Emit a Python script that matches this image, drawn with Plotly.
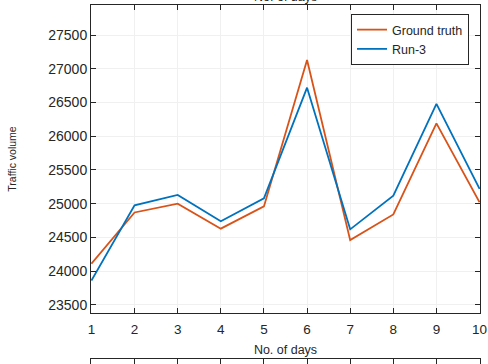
import plotly.graph_objects as go

days = [1, 2, 3, 4, 5, 6, 7, 8, 9, 10]
ground_truth = [24110, 24870, 25000, 24630, 24960, 27130, 24460, 24840, 26190, 25020]
run3 = [23860, 24975, 25130, 24740, 25080, 26720, 24620, 25120, 26480, 25220]
y_ticks = [23500, 24000, 24500, 25000, 25500, 26000, 26500, 27000, 27500]

W, H = 488, 364
x0, x1 = 91, 480
y_top, y_bot = 5, 313

fig = go.Figure()
fig.add_trace(go.Scatter(x=days, y=ground_truth, mode="lines", name="Ground truth",
                         line=dict(color="#D95319", width=1.8)))
fig.add_trace(go.Scatter(x=days, y=run3, mode="lines", name="Run-3",
                         line=dict(color="#0072BD", width=1.8)))
# partial axes of the subplot below (only its top edge is visible)
fig.add_trace(go.Scatter(x=[None], y=[None], xaxis="x2", yaxis="y2", showlegend=False))

font = "Liberation Sans, Arial, sans-serif"
fig.update_layout(
    width=W, height=H,
    margin=dict(l=0, r=0, t=0, b=0, autoexpand=False),
    paper_bgcolor="white", plot_bgcolor="white",
    font=dict(family=font, size=13, color="#262626"),
    showlegend=True,
    legend=dict(x=469 / W, xanchor="right", y=1 - 14 / H, yanchor="top",
                xref="paper", yref="paper",
                bgcolor="white", bordercolor="#262626", borderwidth=1,
                font=dict(size=12.5, color="#262626"),
                tracegroupgap=0, itemwidth=30),
    xaxis=dict(domain=[x0 / W, x1 / W], range=[0.99, 10.01], anchor="y",
               automargin=False,
               tickmode="array", tickvals=days, ticktext=[str(d) for d in days],
               ticks="inside", ticklen=5, tickcolor="#262626",
               showline=True, linecolor="#262626", linewidth=1, mirror="ticks",
               showgrid=True, gridcolor="#f0f0f0", gridwidth=1,
               zeroline=False, tickfont=dict(size=13.5), ticklabelstandoff=4,
               title=dict(text="No. of days", font=dict(size=12.5), standoff=9)),
    yaxis=dict(domain=[1 - y_bot / H, 1 - y_top / H], range=[23380, 27945], anchor="x",
               automargin=False,
               tickmode="array", tickvals=y_ticks, ticktext=[str(v) for v in y_ticks],
               ticks="inside", ticklen=5, tickcolor="#262626",
               showline=True, linecolor="#262626", linewidth=1, mirror="ticks",
               showgrid=True, gridcolor="#f0f0f0", gridwidth=1,
               zeroline=False, tickfont=dict(size=14),
               title=dict(text="Traffic volume", font=dict(size=10.5), standoff=29)),
    xaxis2=dict(domain=[x0 / W, x1 / W], range=[0.99, 10.01], anchor="y2",
                automargin=False,
                tickmode="array", tickvals=days, showticklabels=False,
                ticks="inside", ticklen=5, tickcolor="#262626",
                showline=True, linecolor="#262626", linewidth=1, mirror="ticks",
                showgrid=False, zeroline=False),
    yaxis2=dict(domain=[0, 1 - 359 / H], range=[0, 1], anchor="x2",
                automargin=False,
                showticklabels=False, ticks="", showline=True,
                linecolor="#262626", mirror=True, showgrid=False, zeroline=False),
    annotations=[dict(text="No. of days", xref="paper", yref="paper",
                      x=(x0 + x1) / 2 / W, y=1, xanchor="center", yanchor="bottom",
                      yshift=-6, showarrow=False, font=dict(size=12.5, color="#262626"))],
)

fig.write_html("out.html", config={"displayModeBar": False},
               post_script="document.body.style.margin='0';document.body.style.overflow='hidden';")
